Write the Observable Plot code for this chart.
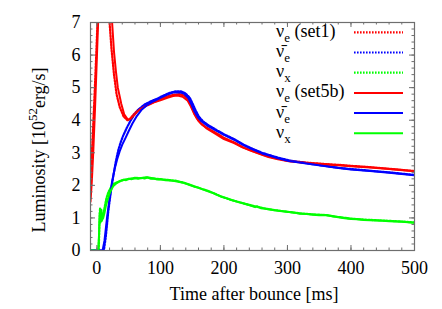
<!DOCTYPE html>
<html><head><meta charset="utf-8">
<script src="https://cdn.jsdelivr.net/npm/d3@7"></script>
<script src="https://cdn.jsdelivr.net/npm/@observablehq/plot@0.6"></script>
<style>
html,body{margin:0;padding:0;background:#fff;}
#chart{position:relative;width:442px;height:309px;}
svg{font-family:"Liberation Serif","DejaVu Serif",serif;}
</style>
</head><body><div id="chart"></div>
<script>
// ---- data: [time after bounce (ms), luminosity (1e52 erg/s)] ----
const nueSet1 = [[-10,2.3],[-7,3.3],[-4,4.6],[-1,6.0],[1,7.0],[5,9.5],[9,10.8],[13,10.0],[17,7.8],[20,7.0],[23,6.2],[27,5.4],[31,4.8],[36,4.4],[42,4.12],[48,4.0],[52,4.04],[58,4.18],[64,4.3],[72,4.4],[80,4.48],[90,4.56],[100,4.64],[110,4.72],[120,4.78],[130,4.8],[138,4.75],[145,4.58],[150,4.38],[155,4.15],[160,3.98],[166,3.86],[175,3.75],[190,3.58],[200,3.46],[216,3.32],[230,3.17],[243,3.07],[260,2.95],[270,2.89],[285,2.82],[302,2.75],[330,2.7],[355,2.66],[380,2.63],[400,2.6],[430,2.56],[460,2.51],[500,2.44]];
const nuebarSet1 = [[-10,0],[11,0],[14,0.4],[18,1.2],[22,1.8],[26,2.3],[30,2.75],[34,3.1],[38,3.35],[42,3.55],[47,3.76],[52,3.95],[58,4.14],[66,4.34],[75,4.48],[85,4.58],[95,4.66],[105,4.76],[115,4.84],[125,4.89],[132,4.89],[139,4.83],[146,4.7],[151,4.5],[156,4.28],[161,4.1],[167,3.97],[176,3.84],[190,3.68],[200,3.57],[216,3.42],[230,3.26],[243,3.14],[260,3.0],[270,2.94],[285,2.85],[302,2.77],[330,2.68],[355,2.61],[380,2.54],[400,2.5],[430,2.45],[460,2.4],[500,2.32]];
const nuxSet1 = [[-10,0],[3,0],[4,0.8],[5,1.3],[6,0.9],[7,1.25],[8,0.95],[10,1.1],[12,1.3],[15,1.6],[18,1.78],[21,1.9],[25,2.02],[30,2.08],[36,2.13],[44,2.18],[52,2.2],[60,2.23],[70,2.22],[78,2.25],[86,2.22],[95,2.2],[105,2.18],[115,2.16],[125,2.14],[135,2.09],[145,2.03],[155,1.96],[165,1.89],[175,1.83],[185,1.75],[197,1.65],[210,1.56],[225,1.48],[240,1.4],[250,1.35],[265,1.29],[280,1.24],[300,1.19],[320,1.14],[340,1.11],[360,1.09],[380,1.03],[400,0.98],[420,0.95],[440,0.93],[460,0.91],[480,0.89],[500,0.86]];
const nueSet5b = [[-10,1.5],[-8,2.1],[-5.7,3.0],[-3,4.3],[0,5.9],[2,7.0],[5,9.0],[9,10.5],[13,10.2],[18,8.5],[24,7.0],[27,6.1],[30,5.5],[33,5.0],[38.5,4.5],[43,4.18],[49,4.01],[53,4.04],[58,4.14],[63,4.25],[69,4.35],[80,4.46],[90,4.55],[100,4.61],[111,4.69],[120,4.74],[127,4.76],[135,4.72],[143,4.6],[148,4.42],[153,4.2],[158,4.04],[164,3.9],[172,3.76],[185,3.6],[200,3.42],[216,3.3],[230,3.16],[243,3.06],[258,2.95],[270,2.87],[285,2.8],[302,2.74],[330,2.69],[355,2.65],[380,2.62],[400,2.59],[430,2.55],[460,2.5],[500,2.43]];
const nuebarSet5b = [[-10,0],[9,0],[12,0.3],[16,1.0],[20,1.6],[24,2.12],[28,2.5],[32,2.8],[36,3.05],[40,3.25],[45,3.45],[50,3.66],[56,3.9],[62,4.1],[70,4.31],[80,4.48],[90,4.59],[100,4.69],[110,4.78],[120,4.85],[130,4.86],[137,4.82],[144,4.68],[149,4.48],[154,4.26],[159,4.09],[165,3.96],[175,3.82],[190,3.66],[200,3.55],[216,3.4],[230,3.24],[243,3.12],[260,2.98],[270,2.92],[285,2.83],[302,2.75],[330,2.67],[355,2.6],[380,2.53],[400,2.49],[430,2.44],[460,2.39],[500,2.31]];
const nuxSet5b = [[-10,0],[2,0],[3.5,0.5],[4.5,1.15],[5.5,0.85],[6.5,1.2],[7.5,0.9],[8.5,0.95],[10,1.0],[12,1.15],[14,1.35],[16,1.5],[18,1.62],[20,1.75],[23,1.88],[26,1.98],[30,2.05],[34,2.1],[38,2.14],[42,2.17],[46,2.16],[50,2.2],[55,2.19],[60,2.22],[65,2.2],[70,2.23],[75,2.21],[80,2.24],[85,2.2],[90,2.21],[95,2.18],[100,2.19],[108,2.16],[115,2.15],[122,2.13],[130,2.1],[138,2.07],[145,2.02],[153,1.96],[160,1.93],[168,1.87],[175,1.82],[183,1.76],[190,1.7],[197,1.64],[205,1.6],[212,1.55],[220,1.5],[228,1.46],[235,1.42],[242,1.38],[249,1.33],[252,1.36],[258,1.3],[265,1.28],[275,1.25],[285,1.22],[295,1.2],[302,1.18],[312,1.16],[320,1.13],[330,1.12],[340,1.1],[350,1.08],[360,1.09],[370,1.05],[380,1.02],[390,0.99],[400,0.97],[410,0.96],[420,0.94],[430,0.93],[440,0.92],[450,0.91],[460,0.9],[470,0.89],[480,0.88],[490,0.87],[500,0.85]];

const xTicks = [0,100,200,300,400,500];
const yTicks = [0,1,2,3,4,5,6,7];
const xMinor = d3.range(0, 501, 20);
const yMinor = d3.range(0, 7.01, 0.2).map(v => +v.toFixed(1));

const legendItems = [
  {nu:"ν", sub:"e", tail:" (set1)", color:"#ff0000", dash:true},
  {nu:"ν\u0304", sub:"e", tail:"", color:"#0000ff", dash:true},
  {nu:"ν", sub:"x", tail:"", color:"#00ff00", dash:true},
  {nu:"ν", sub:"e", tail:" (set5b)", color:"#ff0000", dash:false},
  {nu:"ν\u0304", sub:"e", tail:"", color:"#0000ff", dash:false},
  {nu:"ν", sub:"x", tail:"", color:"#00ff00", dash:false}
];

const W = 442, H = 309;
const mL = 90, mR = 28, mT = 22, mB = 59;
const innerH = H - mT - mB, innerW = W - mL - mR;
const frameColor = "#6e6e6e";
const dotted = {strokeWidth: 2.2, strokeDasharray: "1.6,1.4"};
const solid = {strokeWidth: 2};

const series = [
  [nueSet1, "#ff0000", dotted],
  [nuebarSet1, "#0000ff", dotted],
  [nuxSet1, "#00ff00", dotted],
  [nueSet5b, "#ff0000", solid],
  [nuebarSet5b, "#0000ff", solid],
  [nuxSet5b, "#00ff00", solid]
];

const chart = Plot.plot({
  width: W, height: H,
  marginLeft: mL, marginRight: mR, marginTop: mT, marginBottom: mB,
  style: {fontFamily: '"Liberation Serif", serif', fontSize: "18px", color: "#000", background: "#fff"},
  x: {domain: [-10, 500], ticks: xTicks},
  y: {domain: [0, 7], ticks: yTicks},
  marks: [
    ...series.map(([data, color, st]) => Plot.line(data, {x: d => d[0], y: d => d[1], stroke: color, clip: true, ...st})),
    // inward minor / major ticks on all four sides
    Plot.tickX(xMinor, {x: d => d, stroke: frameColor, insetTop: innerH - 2.5}),
    Plot.tickX(xMinor, {x: d => d, stroke: frameColor, insetBottom: innerH - 2.5}),
    Plot.tickX(xTicks, {x: d => d, stroke: frameColor, insetTop: innerH - 5}),
    Plot.tickX(xTicks, {x: d => d, stroke: frameColor, insetBottom: innerH - 5}),
    Plot.tickY(yMinor, {y: d => d, stroke: frameColor, insetRight: innerW - 2.5}),
    Plot.tickY(yMinor, {y: d => d, stroke: frameColor, insetLeft: innerW - 2.5}),
    Plot.tickY(yTicks, {y: d => d, stroke: frameColor, insetRight: innerW - 5}),
    Plot.tickY(yTicks, {y: d => d, stroke: frameColor, insetLeft: innerW - 5}),
    Plot.axisX({ticks: xTicks, tickSize: 0, tickPadding: 11, label: null, fontSize: 18, tickFormat: d3.format("d")}),
    Plot.axisY({ticks: yTicks, tickSize: 0, tickPadding: 10, label: null, fontSize: 18, tickFormat: d3.format("d")}),
    Plot.frame({stroke: frameColor, strokeWidth: 1.2})
  ]
});

document.getElementById("chart").appendChild(chart);

const svg = d3.select(chart);
const ff = '"Liberation Serif", serif';

// x axis title
svg.append("text").attr("x", mL + innerW / 2 + 2).attr("y", 300)
  .attr("text-anchor", "middle").attr("font-family", ff).attr("font-size", 18)
  .text("Time after bounce [ms]");

// y axis title
const yt = svg.append("text").attr("transform", `translate(45,${mT + innerH / 2 + 14}) rotate(-90)`)
  .attr("text-anchor", "middle").attr("font-family", ff).attr("font-size", 18);
yt.append("tspan").text("Luminosity [10");
yt.append("tspan").attr("font-size", 13).attr("dy", -8).text("52");
yt.append("tspan").attr("dy", 8).text("erg/s]");

// legend
const lg = svg.append("g");
legendItems.forEach((it, i) => {
  const y = 32.3 + i * 20.2;
  const t = lg.append("text").attr("x", 276).attr("y", y + 4.5)
    .attr("text-anchor", "start")
    .attr("font-family", ff).attr("font-size", 18);
  t.append("tspan").text(it.nu);
  t.append("tspan").attr("font-size", 13).attr("dy", 5).text(it.sub);
  if (it.tail) t.append("tspan").attr("dy", -5).text(it.tail);
  lg.append("line").attr("x1", 354).attr("x2", 403).attr("y1", y).attr("y2", y)
    .attr("stroke", it.color)
    .attr("stroke-width", it.dash ? 2.2 : 2)
    .attr("stroke-dasharray", it.dash ? "1.6,1.4" : null);
});
</script>
</body></html>
